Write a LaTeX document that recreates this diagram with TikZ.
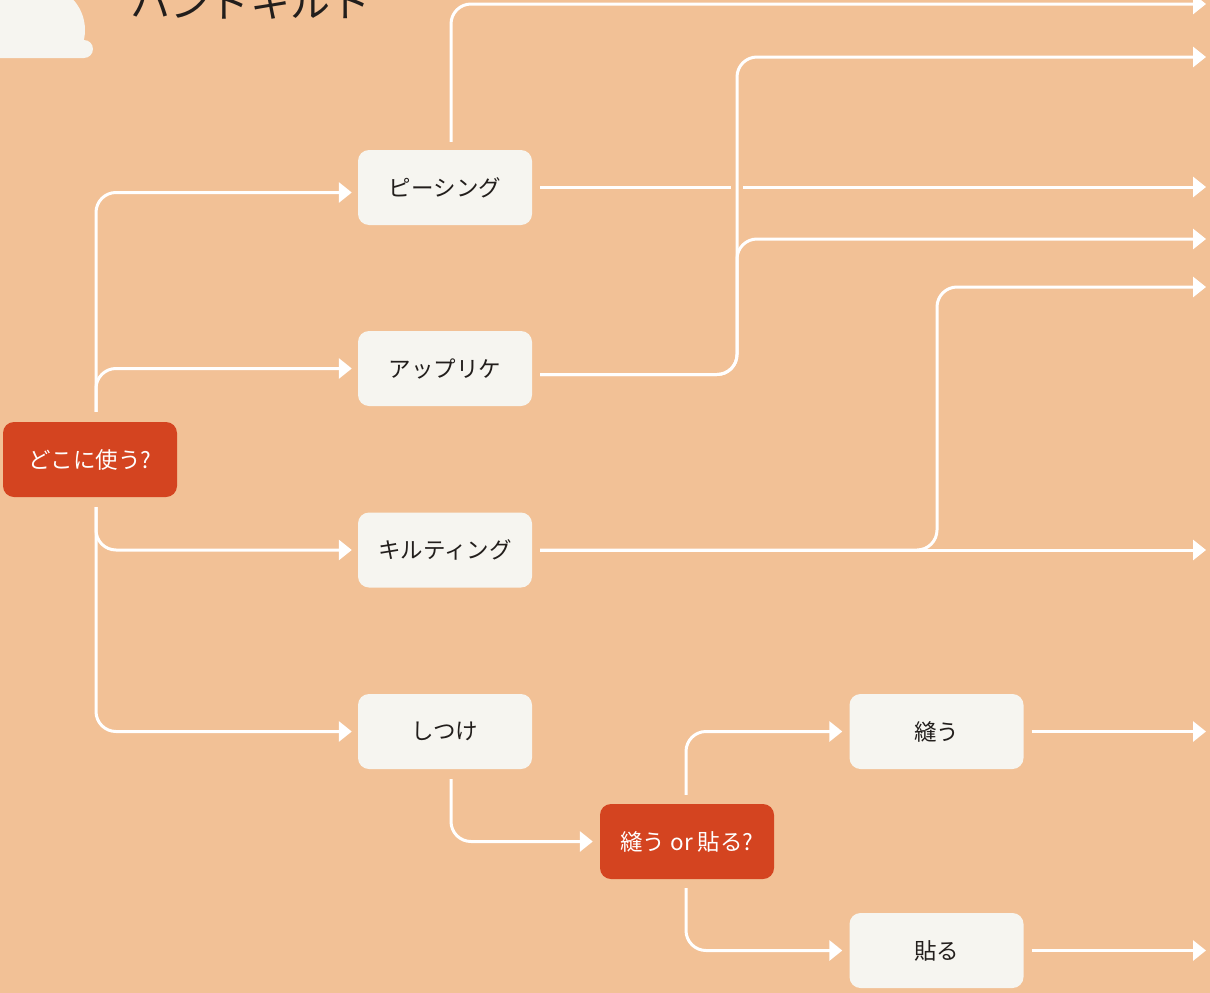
\documentclass[tikz,border=0pt]{standalone}
\usepackage{fontspec}
\newfontfamily\jp{Noto Sans CJK JP}
\usetikzlibrary{arrows.meta}
\definecolor{bg}{RGB}{242,193,150}
\definecolor{redbox}{RGB}{212,68,32}
\definecolor{whitebox}{RGB}{246,245,240}
\definecolor{txt}{RGB}{34,30,28}
\tikzset{
  box/.style={rectangle, rounded corners=11pt, minimum width=174pt, minimum height=75pt,
    fill=whitebox, text=txt, inner sep=0pt, font=\jp\fontsize{22.5}{26}\selectfont},
  qbox/.style={box, fill=redbox, text=white},
  conn/.style={draw=white, line width=3pt, rounded corners=20pt,
    -{Triangle[width=20pt,length=13pt]}},
}
\begin{document}
\begin{tikzpicture}[x=1pt,y=-1pt]
\useasboundingbox (0,0) rectangle (1210,993);
\fill[bg] (0,0) rectangle (1210,993);
% cloud and title
\begin{scope}
  \clip (-10,-10) rectangle (100,50);
  \fill[whitebox] (40,30) circle (45pt);
\end{scope}
\fill[whitebox] (-10,-10) rectangle (40,50);
\fill[whitebox, rounded corners=9pt] (-10,40) rectangle (93,58);
\node[anchor=base west, inner sep=0pt, text=txt, font=\jp\fontsize{40}{46}\selectfont] (title) at (130,17) {ハンドキルト};
% nodes
\node[qbox] (q1) at (90,459.5) {どこに使う?};
\node[box] (p1) at (445,187.5) {ピーシング};
\node[box] (p2) at (445,368.5) {アップリケ};
\node[box] (p3) at (445,550) {キルティング};
\node[box] (p4) at (445,731.5) {しつけ};
\node[qbox] (q2) at (687,841.5) {縫う or 貼る?};
\node[box] (s1) at (936.5,731.5) {縫う};
\node[box] (s2) at (936.5,950.5) {貼る};
% outputs
\coordinate (o1) at (1206,4);
\coordinate (o2) at (1206,57);
\coordinate (o3) at (1206,187);
\coordinate (o4) at (1206,239);
\coordinate (o5) at (1206,287);
\coordinate (o6) at (1206,550);
\coordinate (o7) at (1206,731.5);
\coordinate (o8) at (1206,950.5);
\coordinate (c1) at (737,0);
\coordinate (c2) at (937,0);
% from q1
\draw[conn] ([xshift=6pt,yshift=10pt]q1.north) |- ([xshift=-6pt,yshift=-5pt]p1.west);
\draw[conn] ([xshift=6pt,yshift=10pt]q1.north) |- ([xshift=-6pt]p2.west);
\draw[conn] ([xshift=6pt,yshift=-10pt]q1.south) |- ([xshift=-6pt]p3.west);
\draw[conn] ([xshift=6pt,yshift=-10pt]q1.south) |- ([xshift=-6pt]p4.west);
% from p1
\draw[conn] ([xshift=6pt,yshift=8pt]p1.north) |- (o1);
\draw[conn] ([xshift=8pt]p1.east |- o3) -- (o3);
\fill[bg] (731,182) rectangle (743,192);
% from p2
\draw[conn] ([xshift=8pt,yshift=-6pt]p2.east) -| (c1 |- o2) -- (o2);
\draw[conn] ([xshift=8pt,yshift=-6pt]p2.east) -| (c1 |- o4) -- (o4);
% from p3
\draw[conn] ([xshift=8pt]p3.east) -- (o6);
\draw[conn] ([xshift=8pt]p3.east) -| (c2 |- o5) -- (o5);
% from p4
\draw[conn] ([xshift=6pt,yshift=-10pt]p4.south) |- ([xshift=-7pt]q2.west);
% from q2
\draw[conn] ([xshift=-1pt,yshift=9pt]q2.north) |- ([xshift=-7pt]s1.west);
\draw[conn] ([xshift=-1pt,yshift=-9pt]q2.south) |- ([xshift=-7pt]s2.west);
% from s1, s2
\draw[conn] ([xshift=8pt]s1.east) -- (o7);
\draw[conn] ([xshift=8pt]s2.east) -- (o8);
\end{tikzpicture}
\end{document}
